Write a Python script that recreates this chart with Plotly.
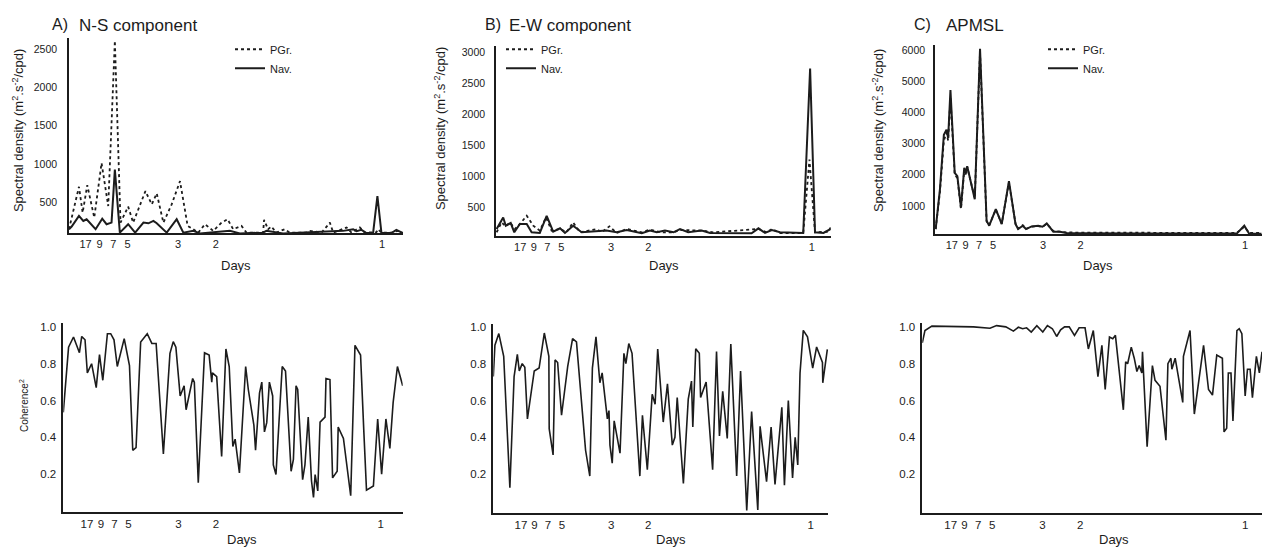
import plotly.graph_objects as go

W, H = 1262, 547

# ---------------- tick labels (periods in days, placed on a frequency axis in cpd) ----------------
day_labels = ["17", "9", "7", "5", "3", "2", "1"]
day_freq = [0.108, 0.150, 0.191, 0.234, 0.386, 0.5, 1.0]

# ---------------- A) N-S component : spectral density ----------------
ns_pgr_f = [0.058, 0.073, 0.088, 0.099, 0.113, 0.134, 0.156, 0.176, 0.196, 0.213, 0.236, 0.251,
            0.288, 0.307, 0.322, 0.342, 0.367, 0.392, 0.415, 0.432, 0.447, 0.467, 0.492, 0.517,
            0.535, 0.552, 0.577, 0.592, 0.642, 0.645, 0.657, 0.667, 0.682, 0.707, 0.722, 0.773,
            0.783, 0.818, 0.843, 0.853, 0.893, 0.908, 0.933, 0.948, 0.983, 0.988, 0.998, 1.028,
            1.048, 1.063]
ns_pgr = [145, 405, 700, 361, 720, 297, 1010, 448, 2610, 231, 440, 231,
          643, 470, 613, 231, 470, 773, 188, 145, 100, 210, 123, 231,
          275, 145, 188, 100, 100, 266, 145, 180, 100, 145, 100, 100,
          123, 100, 231, 100, 167, 100, 167, 100, 105, 145, 100, 100,
          123, 92]
ns_nav_f = [0.058, 0.066, 0.088, 0.101, 0.111, 0.138, 0.158, 0.171, 0.186, 0.196, 0.211, 0.236,
            0.257, 0.282, 0.297, 0.312, 0.322, 0.352, 0.382, 0.402, 0.432, 0.452, 0.542, 0.572,
            0.642, 0.652, 0.702, 0.883, 0.913, 0.923, 0.938, 0.953, 0.973, 0.986, 0.998, 1.028,
            1.043, 1.063]
ns_nav = [145, 180, 318, 253, 275, 145, 283, 210, 231, 924, 100, 210,
          100, 231, 222, 253, 222, 100, 275, 100, 123, 90, 123, 90,
          100, 123, 90, 123, 145, 120, 136, 95, 95, 578, 100, 95,
          136, 92]

# ---------------- B) E-W component : spectral density ----------------
ew_pgr_f = [0.036, 0.051, 0.064, 0.077, 0.092, 0.107, 0.128, 0.148, 0.168, 0.187, 0.204, 0.230,
            0.250, 0.270, 0.291, 0.342, 0.357, 0.381, 0.403, 0.434, 0.480, 0.505, 0.536, 0.577,
            0.597, 0.668, 0.699, 0.837, 0.862, 0.878, 0.903, 0.974, 0.993, 1.010, 1.051, 1.058]
ew_pgr = [101, 260, 197, 260, 154, 234, 367, 207, 128, 340, 128, 154,
          101, 260, 101, 154, 101, 197, 90, 154, 101, 144, 101, 101,
          138, 128, 101, 154, 101, 154, 90, 90, 1271, 101, 110, 181]
ew_nav_f = [0.036, 0.056, 0.064, 0.079, 0.090, 0.107, 0.128, 0.143, 0.168, 0.189, 0.209, 0.230,
            0.245, 0.270, 0.296, 0.342, 0.372, 0.403, 0.434, 0.480, 0.505, 0.526, 0.551, 0.577,
            0.597, 0.622, 0.663, 0.689, 0.770, 0.816, 0.837, 0.857, 0.878, 0.903, 0.974, 0.995,
            1.010, 1.036, 1.058]
ew_nav = [154, 340, 207, 250, 101, 234, 234, 101, 90, 367, 112, 165,
          90, 207, 101, 112, 128, 101, 138, 85, 128, 101, 128, 101,
          154, 101, 128, 90, 85, 85, 165, 90, 138, 101, 90, 2734,
          101, 90, 154]

# ---------------- C) APMSL : spectral density ----------------
ap_pgr_f = [0.059, 0.072, 0.084, 0.092, 0.097, 0.104, 0.117, 0.125, 0.136, 0.146, 0.150, 0.155,
            0.178, 0.194, 0.214, 0.222, 0.242, 0.260, 0.282, 0.302, 0.310, 0.324, 0.334, 0.351,
            0.371, 0.384, 0.397, 0.417, 0.437, 0.457, 0.498, 0.579, 0.700, 0.800, 0.900, 0.975,
            0.998, 1.013, 1.051]
ap_pgr = [255, 1450, 3100, 3350, 3100, 4500, 2000, 1900, 900, 2150, 2000, 2250,
          1250, 5950, 500, 380, 880, 430, 1750, 430, 270, 380, 260, 330,
          350, 320, 420, 190, 170, 150, 140, 140, 150, 150, 140, 130,
          330, 130, 130]
ap_nav_f = [0.059, 0.072, 0.084, 0.092, 0.097, 0.104, 0.117, 0.125, 0.136, 0.146, 0.150, 0.155,
            0.178, 0.194, 0.214, 0.222, 0.242, 0.260, 0.282, 0.302, 0.310, 0.324, 0.334, 0.351,
            0.371, 0.384, 0.397, 0.417, 0.437, 0.457, 0.498, 0.579, 0.700, 0.800, 0.900, 0.975,
            0.998, 1.013, 1.051]
ap_nav = [255, 1532, 3288, 3447, 3181, 4724, 2064, 1958, 947, 2224, 2050, 2277,
          1213, 6054, 521, 362, 894, 415, 1798, 415, 255, 362, 255, 340,
          362, 330, 436, 170, 170, 128, 120, 110, 110, 110, 110, 110,
          362, 105, 105]

# ---------------- coherence^2 ----------------
ns_coh_f = [0.036, 0.052, 0.067, 0.085, 0.092, 0.102, 0.109, 0.122, 0.136, 0.146, 0.156, 0.170,
            0.180, 0.190, 0.200, 0.221, 0.237, 0.247, 0.257, 0.271, 0.291, 0.305, 0.318, 0.340,
            0.360, 0.370, 0.378, 0.391, 0.403, 0.409, 0.429, 0.434, 0.446, 0.465, 0.479, 0.487,
            0.489, 0.502, 0.517, 0.530, 0.540, 0.551, 0.558, 0.571, 0.590, 0.598, 0.615, 0.620,
            0.632, 0.639, 0.647, 0.654, 0.662, 0.672, 0.674, 0.682, 0.701, 0.711, 0.728, 0.735,
            0.743, 0.748, 0.763, 0.770, 0.780, 0.790, 0.796, 0.801, 0.809, 0.816, 0.831, 0.834,
            0.846, 0.854, 0.868, 0.871, 0.887, 0.909, 0.922, 0.939, 0.949, 0.957, 0.978, 0.991,
            1.003, 1.016, 1.028, 1.038, 1.051, 1.067]
ns_coh = [0.536, 0.89, 0.945, 0.86, 0.948, 0.93, 0.75, 0.80, 0.67, 0.85, 0.71, 0.963,
          0.963, 0.93, 0.785, 0.936, 0.79, 0.33, 0.344, 0.918, 0.963, 0.91, 0.91, 0.31,
          0.856, 0.92, 0.89, 0.625, 0.68, 0.55, 0.72, 0.70, 0.154, 0.86, 0.847, 0.70,
          0.75, 0.73, 0.296, 0.88, 0.785, 0.35, 0.39, 0.207, 0.785, 0.66, 0.465, 0.33,
          0.64, 0.70, 0.43, 0.48, 0.70, 0.625, 0.25, 0.198, 0.785, 0.76, 0.216, 0.28,
          0.68, 0.66, 0.17, 0.25, 0.51, 0.163, 0.074, 0.198, 0.109, 0.483, 0.51, 0.72,
          0.714, 0.18, 0.216, 0.456, 0.394, 0.083, 0.90, 0.847, 0.43, 0.113, 0.136, 0.50,
          0.20, 0.50, 0.34, 0.59, 0.785, 0.68]

ew_coh_f = [0.023, 0.028, 0.040, 0.055, 0.074, 0.087, 0.097, 0.103, 0.112, 0.120, 0.128, 0.149,
            0.164, 0.180, 0.194, 0.195, 0.207, 0.213, 0.221, 0.233, 0.252, 0.267, 0.279, 0.307,
            0.320, 0.328, 0.339, 0.351, 0.358, 0.374, 0.379, 0.382, 0.389, 0.395, 0.413, 0.425,
            0.431, 0.440, 0.450, 0.474, 0.482, 0.497, 0.512, 0.521, 0.529, 0.546, 0.559, 0.574,
            0.582, 0.589, 0.608, 0.623, 0.633, 0.637, 0.646, 0.657, 0.661, 0.678, 0.698, 0.710,
            0.719, 0.729, 0.743, 0.754, 0.772, 0.784, 0.803, 0.818, 0.837, 0.844, 0.864, 0.878,
            0.890, 0.911, 0.919, 0.931, 0.944, 0.952, 0.960, 0.967, 0.977, 0.990, 1.006, 1.018,
            1.036, 1.037, 1.051]
ew_coh = [0.73, 0.90, 0.963, 0.84, 0.127, 0.73, 0.85, 0.76, 0.80, 0.78, 0.50, 0.76,
          0.776, 0.966, 0.84, 0.447, 0.305, 0.82, 0.806, 0.52, 0.785, 0.936, 0.918, 0.33,
          0.19, 0.776, 0.945, 0.696, 0.75, 0.50, 0.545, 0.358, 0.26, 0.49, 0.314, 0.856,
          0.80, 0.909, 0.856, 0.19, 0.52, 0.225, 0.634, 0.58, 0.879, 0.483, 0.69, 0.358,
          0.40, 0.616, 0.15, 0.607, 0.705, 0.456, 0.88, 0.856, 0.616, 0.70, 0.225, 0.865,
          0.408, 0.65, 0.394, 0.906, 0.19, 0.76, 0.003, 0.54, 0.006, 0.46, 0.16, 0.456,
          0.145, 0.563, 0.14, 0.60, 0.18, 0.40, 0.25, 0.75, 0.98, 0.945, 0.776, 0.89,
          0.806, 0.696, 0.877]

ap_coh_f = [0.022, 0.030, 0.051, 0.096, 0.177, 0.227, 0.247, 0.275, 0.298, 0.313, 0.326, 0.338,
            0.352, 0.369, 0.387, 0.401, 0.416, 0.429, 0.441, 0.453, 0.467, 0.483, 0.497, 0.515,
            0.525, 0.540, 0.554, 0.566, 0.576, 0.589, 0.599, 0.607, 0.631, 0.638, 0.644, 0.655,
            0.664, 0.672, 0.679, 0.687, 0.689, 0.703, 0.719, 0.727, 0.732, 0.742, 0.760, 0.766,
            0.775, 0.778, 0.788, 0.811, 0.813, 0.833, 0.846, 0.874, 0.889, 0.901, 0.914, 0.931,
            0.936, 0.944, 0.949, 0.957, 0.963, 0.975, 0.982, 0.990, 1.000, 1.007, 1.015, 1.022,
            1.034, 1.043, 1.051]
ap_coh = [0.913, 0.98, 1.004, 1.004, 1.0, 0.993, 1.007, 1.0, 0.977, 0.998, 0.99, 0.995,
          0.972, 1.007, 0.972, 1.007, 0.99, 0.948, 0.984, 1.0, 1.0, 0.954, 0.995, 0.995,
          0.88, 0.98, 0.73, 0.90, 0.66, 0.945, 0.936, 0.954, 0.55, 0.81, 0.80, 0.89,
          0.83, 0.758, 0.79, 0.75, 0.865, 0.35, 0.79, 0.71, 0.70, 0.678, 0.385, 0.80,
          0.83, 0.77, 0.83, 0.59, 0.84, 0.98, 0.527, 0.90, 0.66, 0.63, 0.847, 0.83,
          0.43, 0.45, 0.75, 0.75, 0.49, 0.98, 0.99, 0.963, 0.625, 0.77, 0.77, 0.616,
          0.84, 0.75, 0.865]

# ---------------- figure ----------------
INK = "#1c1c1c"
FONT = "Liberation Sans, Arial, sans-serif"

fig = go.Figure()


def px_x(p):
    return p / W


def px_y(p):
    return 1 - p / H


panels = [
    # (axis suffix, x-domain px, y-domain px (bottom, top), x range, y range, y ticks, tick standoff)
    ("", (69, 403), (231, 34.7), (0.058, 1.063), (91, 2640), [500, 1000, 1500, 2000, 2500], 8),
    ("2", (496, 830.7), (233.3, 42.7), (0.034, 1.058), (48, 3090), [500, 1000, 1500, 2000, 2500, 3000], 7),
    ("3", (935, 1261.7), (231.7, 41.7), (0.057, 1.051), (96, 6160), [1000, 2000, 3000, 4000, 5000, 6000], 6),
    ("4", (63.3, 402.7), (511.7, 321), (0.036, 1.067), (-0.005, 1.023), [0.2, 0.4, 0.6, 0.8, 1.0], 3),
    ("5", (493.3, 828.3), (512.7, 322.7), (0.023, 1.054), (-0.01, 1.013), [0.2, 0.4, 0.6, 0.8, 1.0], 3),
    ("6", (922.3, 1262), (512.7, 321), (0.022, 1.051), (-0.01, 1.023), [0.2, 0.4, 0.6, 0.8, 1.0], 3),
]

layout = {}
for i, (sfx, xd, yd, xr, yr, yt, stand) in enumerate(panels):
    bottom_row = i >= 3
    layout["xaxis" + sfx] = dict(
        domain=[px_x(xd[0]), px_x(xd[1])], range=list(xr), anchor="y" + sfx,
        showline=True, linecolor=INK, linewidth=1.5, showgrid=False, zeroline=False,
        ticks="", ticklen=0, tickvals=day_freq, ticktext=day_labels,
        tickfont=dict(family=FONT, size=11.5 if bottom_row else 11, color=INK),
        ticklabelstandoff=0,
    )
    layout["yaxis" + sfx] = dict(
        domain=[px_y(yd[0]), px_y(yd[1])], range=list(yr), anchor="x" + sfx,
        showline=True, linecolor=INK, linewidth=1.5, showgrid=False, zeroline=False,
        ticks="", tickvals=yt,
        ticktext=[f"{v:.1f}" for v in yt] if bottom_row else [str(v) for v in yt],
        tickfont=dict(family=FONT, size=11.5 if bottom_row else 10.5, color=INK),
        ticklabelstandoff=stand,
    )

spectra = [
    (ns_pgr_f, ns_pgr, ns_nav_f, ns_nav, "", "legend"),
    (ew_pgr_f, ew_pgr, ew_nav_f, ew_nav, "2", "legend2"),
    (ap_pgr_f, ap_pgr, ap_nav_f, ap_nav, "3", "legend3"),
]
for pf, pv, nf, nv, sfx, leg in spectra:
    fig.add_trace(go.Scatter(x=pf, y=pv, mode="lines", name="PGr.",
                             line=dict(color=INK, width=1.8, dash="dot"),
                             xaxis="x" + sfx, yaxis="y" + sfx, legend=leg, cliponaxis=False))
    fig.add_trace(go.Scatter(x=nf, y=nv, mode="lines", name="Nav.",
                             line=dict(color=INK, width=2.0),
                             xaxis="x" + sfx, yaxis="y" + sfx, legend=leg, cliponaxis=False))

for f, v, sfx in [(ns_coh_f, ns_coh, "4"), (ew_coh_f, ew_coh, "5"), (ap_coh_f, ap_coh, "6")]:
    fig.add_trace(go.Scatter(x=f, y=v, mode="lines", showlegend=False,
                             line=dict(color=INK, width=1.6),
                             xaxis="x" + sfx, yaxis="y" + sfx, cliponaxis=False))

legend_style = dict(font=dict(family=FONT, size=11, color=INK), bgcolor="rgba(0,0,0,0)",
                    xanchor="left", yanchor="top", itemwidth=30, tracegroupgap=0,
                    traceorder="normal")
layout["legend"] = dict(legend_style, x=px_x(230), y=px_y(31))
layout["legend2"] = dict(legend_style, x=px_x(501), y=px_y(31))
layout["legend3"] = dict(legend_style, x=px_x(1043), y=px_y(31))

ann = []


def text(x, y, s, size, angle=0, anchor="center"):
    ann.append(dict(x=px_x(x), y=px_y(y), xref="paper", yref="paper", text=s, showarrow=False,
                    textangle=angle, xanchor=anchor, yanchor="middle",
                    font=dict(family=FONT, size=size, color=INK)))


# panel titles
text(50, 21, "A)", 16, anchor="left")
text(77, 22, "N-S component", 17, anchor="left")
text(483, 21, "B)", 16, anchor="left")
text(507, 22, "E-W component", 17, anchor="left")
text(912, 21, "C)", 16, anchor="left")
text(944, 22, "APMSL", 17, anchor="left")

# y titles
ytitle = "Spectral density (m<sup>2</sup>.s<sup>-2</sup>/cpd)"
text(18, 128, ytitle, 13, angle=-90)
text(440, 126, ytitle, 13, angle=-90)
text(878, 128, ytitle, 13, angle=-90)
text(24, 405, "Coherence<sup>2</sup>", 10, angle=-90)

# x titles
for x in (236, 664, 1098):
    text(x, 263, "Days", 13)
for x in (242, 671, 1114):
    text(x, 539, "Days", 13)

layout["annotations"] = ann

fig.update_layout(
    width=W, height=H, margin=dict(l=0, r=0, t=0, b=0),
    paper_bgcolor="white", plot_bgcolor="white",
    font=dict(family=FONT, color=INK),
    **layout,
)

fig.write_html("out.html", config={"displayModeBar": False},
               post_script="document.body.style.margin='0';document.body.style.padding='0';")
